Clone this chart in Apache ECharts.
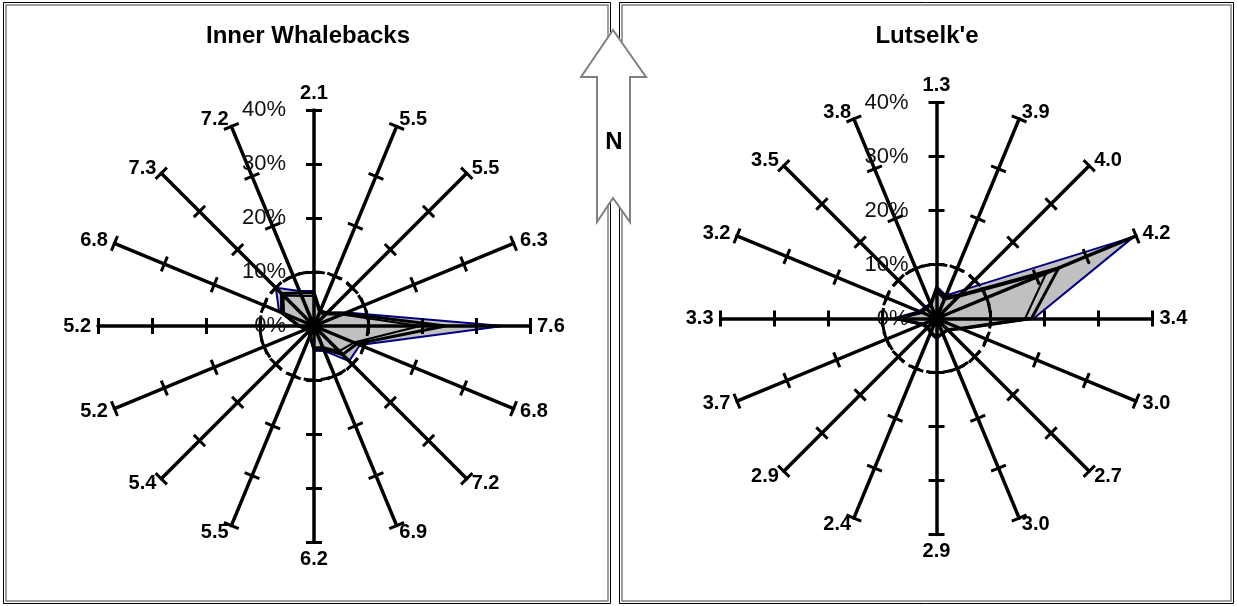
<!DOCTYPE html>
<html><head><meta charset="utf-8">
<script src="https://cdn.jsdelivr.net/npm/echarts@6/dist/echarts.min.js"></script>
<style>html,body{margin:0;padding:0;background:#fff}#c{width:1237px;height:606px}</style>
</head><body><div id="c"></div>
<script>
// Compass order: N, NNE, NE, ENE, E, ESE, SE, SSE, S, SSW, SW, WSW, W, WNW, NW, NNW
const directions = ['N','NNE','NE','ENE','E','ESE','SE','SSE','S','SSW','SW','WSW','W','WNW','NW','NNW'];
const titles = ['Inner Whalebacks', "Lutselk'e"];

// Mean wind speed labels at the end of each direction axis
const whalebacksSpeed = ['2.1','5.5','5.5','6.3','7.6','6.8','7.2','6.9','6.2','5.5','5.4','5.2','5.2','6.8','7.3','7.2'];
const lutselkeSpeed   = ['1.3','3.9','4.0','4.2','3.4','3.0','2.7','3.0','2.9','2.4','2.9','3.7','3.3','3.2','3.5','3.8'];

// Frequency (%) by direction
const whalebacksA = [6.5, 3.0, 3.5, 6.5, 35.0, 9.2, 9.2, 5.0, 4.6, 2.0, 1.5, 1.5, 3.0, 7.0, 10.0, 7.0];
const whalebacksB = [6.2, 3.0, 3.5, 6.2, 24.3, 8.6, 7.5, 4.6, 4.4, 2.0, 1.5, 1.5, 2.8, 6.5, 8.5, 6.6];
const whalebacksC = [5.6, 2.6, 3.0, 5.6, 19.6, 8.0, 6.6, 4.2, 4.0, 1.8, 1.3, 1.3, 2.5, 6.0, 8.0, 6.0];

const lutselkeA = [6.0, 4.6, 7.7, 39.5, 18.0, 5.0, 3.0, 3.0, 3.8, 3.0, 2.5, 3.0, 8.0, 3.5, 3.0, 3.0];
const lutselkeB = [5.6, 4.2, 6.2, 24.5, 17.6, 5.0, 3.0, 3.0, 3.6, 2.8, 2.3, 2.8, 7.5, 3.0, 2.8, 2.8];
const lutselkeC = [5.0, 3.8, 5.6, 22.0, 16.4, 4.6, 2.8, 2.8, 3.4, 2.6, 2.1, 2.6, 7.0, 2.8, 2.6, 2.6];

const percentMax = 40;
const percentSplits = 4;

// ECharts lays radar indicators counter-clockwise; reorder compass lists
const ccw = arr => [arr[0]].concat(arr.slice(1).reverse());

const FONT = 'Liberation Sans, Arial, Helvetica, sans-serif';
const centers = [[314, 326], [936.5, 318.5]];
const RADIUS = 216;

function buildRadars(center, speeds) {
  const ind1 = ccw(speeds).map((s, i) => {
    const o = { name: s, min: 0, max: percentMax };
    if (i === 0) o.axisLabel = { show: true };
    return o;
  });
  const ind2 = ccw(speeds).map(s => ({ name: s, min: 0, max: percentMax }));
  const main = {
    center: center, radius: RADIUS, startAngle: 90, splitNumber: percentSplits,
    shape: 'circle', z: 3, silent: true,
    nameGap: 7,
    axisName: { color: '#000', fontSize: 20, fontWeight: 'bold', fontFamily: FONT },
    axisLine: { show: true, lineStyle: { color: '#000', width: 3.5 } },
    axisTick: { show: true, length: 8, inside: false, lineStyle: { color: '#000', width: 3 } },
    axisLabel: {
      show: false, color: '#111', fontSize: 22, fontFamily: FONT, margin: 28,
      formatter: '{value}%', showMinLabel: true, showMaxLabel: true,
      padding: [8, 0, 0, 0]
    },
    splitLine: { show: true, lineStyle: { color: ['transparent', '#000', 'transparent', 'transparent', 'transparent'], width: 3, type: [10, 7] } },
    splitArea: { show: false },
    indicator: ind1
  };
  const second = {
    center: center, radius: RADIUS, startAngle: 90, splitNumber: percentSplits,
    shape: 'circle', z: 3, silent: true,
    axisName: { show: false },
    axisLine: { show: true, lineStyle: { color: 'rgba(0,0,0,0)', width: 0 } },
    axisTick: { show: true, length: -8, inside: false, lineStyle: { color: '#000', width: 3 } },
    axisLabel: { show: false },
    splitLine: { show: false },
    splitArea: { show: false },
    indicator: ind2
  };
  return [main, second];
}

// gray filled area (no outline)
function fillSeries(radarIndex, values) {
  return {
    type: 'radar', radarIndex: radarIndex, z: 1, symbol: 'none', silent: true,
    lineStyle: { width: 0, opacity: 0 },
    areaStyle: { color: '#c0c0c0', opacity: 1 },
    data: [{ value: ccw(values) }]
  };
}
// outline only
function lineSeries(radarIndex, values, lineColor, lineWidth, z) {
  return {
    type: 'radar', radarIndex: radarIndex, z: z, symbol: 'none', silent: true,
    lineStyle: { color: lineColor, width: lineWidth, opacity: 1, join: 'round' },
    itemStyle: { color: lineColor },
    data: [{ value: ccw(values) }]
  };
}

const radars = buildRadars(centers[0], whalebacksSpeed).concat(buildRadars(centers[1], lutselkeSpeed));

const option = {
  animation: false,
  backgroundColor: '#fff',
  title: [
    { text: titles[0], left: 308, top: 24, textAlign: 'center', padding: 0,
      textStyle: { color: '#000', fontSize: 24, fontWeight: 'bold', fontFamily: FONT } },
    { text: titles[1], left: 927, top: 24, textAlign: 'center', padding: 0,
      textStyle: { color: '#000', fontSize: 24, fontWeight: 'bold', fontFamily: FONT } }
  ],
  radar: radars,
  series: [
    fillSeries(0, whalebacksA),
    lineSeries(0, whalebacksA, '#000080', 2, 1.3),
    lineSeries(0, whalebacksB, '#000000', 3, 1.4),
    lineSeries(0, whalebacksC, '#000000', 2, 1.5),
    fillSeries(2, lutselkeA),
    lineSeries(2, lutselkeA, '#000080', 2, 1.3),
    lineSeries(2, lutselkeB, '#000000', 3, 1.4),
    lineSeries(2, lutselkeC, '#000000', 2, 1.5)
  ],
  graphic: [
    { type: 'rect', z: 50, silent: true, shape: { x: 3.5, y: 2.5, width: 607, height: 601 }, style: { fill: 'none', stroke: '#000', lineWidth: 1 } },
    { type: 'rect', z: 50, silent: true, shape: { x: 6, y: 5, width: 602, height: 596 }, style: { fill: 'none', stroke: '#808080', lineWidth: 1.5 } },
    { type: 'rect', z: 50, silent: true, shape: { x: 619.5, y: 2.5, width: 614, height: 601 }, style: { fill: 'none', stroke: '#000', lineWidth: 1 } },
    { type: 'rect', z: 50, silent: true, shape: { x: 622, y: 5, width: 609, height: 596 }, style: { fill: 'none', stroke: '#808080', lineWidth: 1.5 } },
    { type: 'polygon', z: 100, silent: true,
      shape: { points: [[613, 30], [646, 77], [630, 77], [630, 222], [613, 198], [597, 222], [597, 77], [581, 77]] },
      style: { fill: '#fff', stroke: '#808080', lineWidth: 2 } },
    { type: 'text', z: 101, silent: true, x: 614, y: 142,
      style: { text: 'N', fill: '#000', font: 'bold 24px ' + FONT, align: 'center', verticalAlign: 'middle' } }
  ]
};

const chart = echarts.init(document.getElementById('c'), null, { renderer: 'canvas' });
chart.setOption(option);
</script>
</body></html>
